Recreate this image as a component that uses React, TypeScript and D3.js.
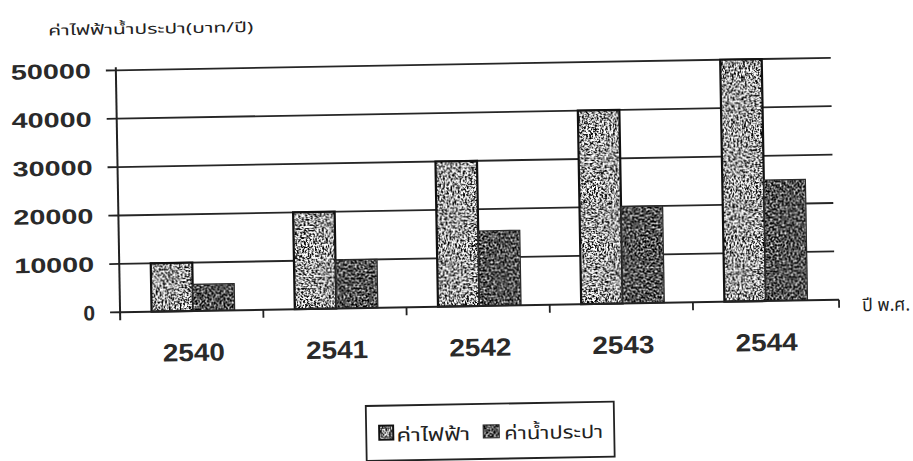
import React from "react";
import * as d3 from "d3";

const years = ["2540", "2541", "2542", "2543", "2544"];
const electricity = [10000, 20000, 30000, 40000, 50000];
const water = [5500, 10000, 15500, 20000, 25000];
const yTicks = [0, 10000, 20000, 30000, 40000, 50000];
const seriesNames = ["ค่าไฟฟ้า", "ค่าน้ำประปา"];
const titleText = "ค่าไฟฟ้าน้ำประปา(บาท/ปี)";
const xAxisTitle = "ปี พ.ศ.";

const W = 913;
const H = 461;
const thaiFont = "'Noto Sans Thai', 'Noto Sans', 'DejaVu Sans', sans-serif";
const numFont = "'Liberation Sans', Arial, sans-serif";

export default function App() {
  const x = d3.scaleBand<string>().domain(years).range([118, 837]).paddingInner(0.42).paddingOuter(0.22);
  const sub = d3.scaleBand<number>().domain([0, 1]).range([0, x.bandwidth()]);
  const y = d3.scaleLinear().domain([0, 50000]).range([306, 64]);
  const step = x.step();
  const boundaries = years.map((_, i) => 118 + i * step).concat([837]);
  const series = [electricity, water];

  return (
    <svg width={W} height={H} style={{ position: "absolute", left: 0, top: 0, background: "#fff" }}>
      <defs>
        <filter id="noiseLight" x="0" y="0" width="100%" height="100%" colorInterpolationFilters="sRGB">
          <feTurbulence type="fractalNoise" baseFrequency="0.55" numOctaves="2" seed="3" result="t" />
          <feColorMatrix in="t" type="matrix" values="4.4 0 0 0 -1.55  4.4 0 0 0 -1.55  4.4 0 0 0 -1.55  0 0 0 0 1" result="g" />
          <feComposite in="g" in2="SourceGraphic" operator="in" />
        </filter>
        <filter id="noiseDark" x="0" y="0" width="100%" height="100%" colorInterpolationFilters="sRGB">
          <feTurbulence type="fractalNoise" baseFrequency="0.5" numOctaves="2" seed="7" result="t" />
          <feColorMatrix in="t" type="matrix" values="2.4 0 0 0 -0.88  2.4 0 0 0 -0.88  2.4 0 0 0 -0.88  0 0 0 0 1" result="g" />
          <feComposite in="g" in2="SourceGraphic" operator="in" />
        </filter>
      </defs>
      <rect x={0} y={0} width={W} height={H} fill="#fff" />
      <g transform="rotate(-1 478 190)">
        <text x={51} y={28} fontFamily={thaiFont} fontSize={14} fill="#222" textLength={205} lengthAdjust="spacingAndGlyphs">
          {titleText}
        </text>

        {yTicks.filter((t) => t > 0).map((t) => (
          <line key={"g" + t} x1={118} x2={833} y1={y(t)} y2={y(t)} stroke="#262626" strokeWidth={1.8} />
        ))}

        {years.map((yr, i) =>
          series.map((s, j) => {
            const bx = (x(yr) as number) + (sub(j) as number);
            const by = y(s[i]);
            const bw = sub.bandwidth();
            const bh = y(0) - by;
            return (
              <g key={yr + j}>
                <rect x={bx} y={by} width={bw} height={bh} fill="#fff" filter={j === 0 ? "url(#noiseLight)" : "url(#noiseDark)"} />
                <rect x={bx} y={by} width={bw} height={bh} fill="none" stroke={j === 0 ? "#111" : "#2a2a2a"} strokeWidth={j === 0 ? 2.2 : 1.2} />
              </g>
            );
          })
        )}

        <line x1={118} x2={118} y1={y(50000) - 3} y2={y(0) + 8} stroke="#222" strokeWidth={2} />
        <line x1={118} x2={837} y1={y(0)} y2={y(0)} stroke="#222" strokeWidth={2} />
        {yTicks.map((t) => (
          <line key={"t" + t} x1={108} x2={118} y1={y(t)} y2={y(t)} stroke="#222" strokeWidth={1.8} />
        ))}
        {boundaries.slice(1).map((b, i) => (
          <line key={"b" + i} x1={b} x2={b} y1={y(0)} y2={y(0) + 8} stroke="#222" strokeWidth={1.8} />
        ))}

        {yTicks.map((t) => {
          const label = String(t);
          return (
            <text
              key={"l" + t}
              x={93}
              y={y(t) + 7.5}
              textAnchor="end"
              fontFamily={numFont}
              fontWeight="bold"
              fontSize={21}
              fill="#2a2a2a"
              {...(label.length > 1 ? { textLength: label.length * 16, lengthAdjust: "spacingAndGlyphs" } : {})}
            >
              {label}
            </text>
          );
        })}

        {years.map((yr) => (
          <text
            key={"c" + yr}
            x={(x(yr) as number) + x.bandwidth() / 2}
            y={356}
            textAnchor="middle"
            fontFamily={numFont}
            fontWeight="bold"
            fontSize={25}
            fill="#2a2a2a"
            textLength={62}
            lengthAdjust="spacingAndGlyphs"
          >
            {yr}
          </text>
        ))}

        <text x={860} y={318} fontFamily={thaiFont} fontSize={18} fill="#222" textLength={48} lengthAdjust="spacingAndGlyphs">
          {xAxisTitle}
        </text>

        <rect x={362} y={404} width={248} height={55} fill="#fff" stroke="#222" strokeWidth={1.8} />
        <rect x={375} y={424} width={14} height={14} fill="#fff" filter="url(#noiseLight)" />
        <rect x={375} y={424} width={14} height={14} fill="none" stroke="#111" strokeWidth={2} />
        <rect x={377.5} y={426.5} width={9} height={9} fill="none" stroke="#333" strokeWidth={1} />
        <text x={392} y={440} fontFamily={thaiFont} fontSize={18} fill="#222" textLength={74} lengthAdjust="spacingAndGlyphs">
          {seriesNames[0]}
        </text>
        <rect x={479} y={425} width={16} height={13} fill="#fff" filter="url(#noiseDark)" />
        <rect x={479} y={425} width={16} height={13} fill="none" stroke="#2a2a2a" strokeWidth={1} />
        <text x={500} y={440} fontFamily={thaiFont} fontSize={18} fill="#222" textLength={99} lengthAdjust="spacingAndGlyphs">
          {seriesNames[1]}
        </text>
      </g>
    </svg>
  );
}
